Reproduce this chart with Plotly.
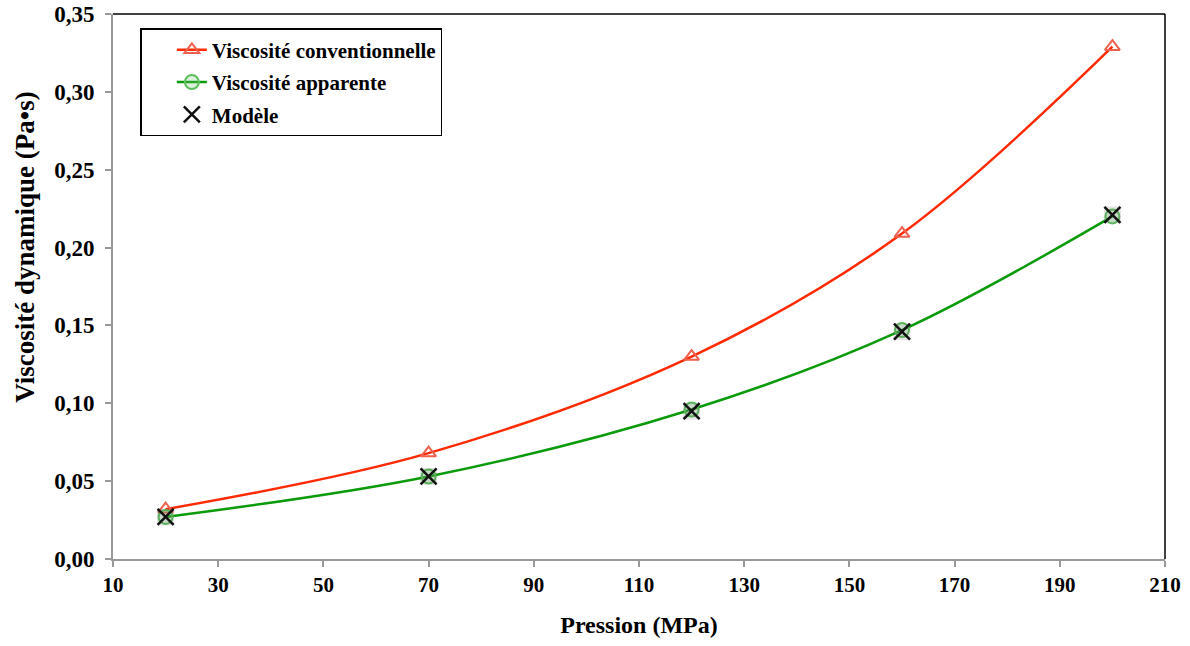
import plotly.graph_objects as go

pression = [20, 70, 120, 160, 200]
visc_conv = [0.032, 0.068, 0.130, 0.209, 0.329]
visc_app = [0.027, 0.053, 0.096, 0.147, 0.220]
modele = [0.027, 0.053, 0.095, 0.146, 0.221]
x_ticks = [10, 30, 50, 70, 90, 110, 130, 150, 170, 190, 210]
y_ticks = [0.00, 0.05, 0.10, 0.15, 0.20, 0.25, 0.30, 0.35]

FONT = "Liberation Serif"

fig = go.Figure()
fig.add_trace(go.Scatter(
    x=pression, y=visc_conv, name="Viscosité conventionnelle", legendgroup="a",
    mode="lines+markers", line=dict(color="#ff2a00", width=2.5, shape="spline", smoothing=1),
    marker=dict(symbol="triangle-up-open", size=13, color="#f0604f", line=dict(width=2)),
))
fig.add_trace(go.Scatter(
    x=pression, y=visc_app, name="Viscosité apparente", legendgroup="b",
    mode="lines+markers", line=dict(color="#0a9a0a", width=2.5, shape="spline", smoothing=1),
    marker=dict(symbol="circle", size=14, color="rgba(120,200,120,0.25)",
                line=dict(width=2, color="#5cbf5c")),
))
# soft shadow behind model markers
fig.add_trace(go.Scatter(
    x=pression, y=modele, mode="markers", showlegend=False, hoverinfo="skip",
    marker=dict(symbol="square", size=17, color="rgba(90,90,90,0.16)", line=dict(width=0)),
))
fig.add_trace(go.Scatter(
    x=pression, y=modele, name="Modèle", mode="markers", legendgroup="c",
    marker=dict(symbol="x-thin", size=16, color="black", line=dict(width=2.5, color="#111111")),
))

fig.update_layout(
    width=1190, height=646,
    paper_bgcolor="white", plot_bgcolor="white",
    margin=dict(l=113, r=25, t=14, b=87),
    separators=", ",
    font=dict(family=FONT, size=20, color="black"),
    showlegend=True,
    legend=dict(
        x=0.026, y=0.974, xanchor="left", yanchor="top",
        bgcolor="white", bordercolor="black", borderwidth=1.5,
        font=dict(family=FONT, size=21, color="black", weight="bold"),
        itemwidth=30, tracegroupgap=2, indentation=30,
    ),
    xaxis=dict(
        range=[10, 210], tickvals=x_ticks, ticktext=[str(v) for v in x_ticks],
        showgrid=False, zeroline=False, automargin=False,
        showline=True, linecolor="#999999", linewidth=2,
        ticks="outside", ticklen=6, tickcolor="#999999", tickwidth=2,
        tickfont=dict(family=FONT, size=21, color="black", weight="bold"),
        ticklabeloverflow="allow",
        title=dict(text="Pression (MPa)", font=dict(family=FONT, size=24, color="black", weight="bold"), standoff=20),
    ),
    yaxis=dict(
        range=[0, 0.35], tickvals=y_ticks, tickformat=".2f",
        showgrid=False, zeroline=False, automargin=False,
        showline=True, linecolor="#999999", linewidth=2,
        ticks="outside", ticklen=6, tickcolor="#999999", tickwidth=2,
        tickfont=dict(family=FONT, size=23, color="black", weight="bold"),
        ticklabeloverflow="allow", ticklabelstandoff=6,
    ),
    annotations=[
        dict(text="<b>Viscosité dynamique (Pa•s)</b>", xref="paper", yref="paper",
             x=-88 / 1052, y=0.571, xanchor="center", yanchor="middle", textangle=-90,
             showarrow=False, font=dict(family=FONT, size=27, color="black")),
    ],
    shapes=[
        dict(type="line", xref="paper", yref="paper", x0=0, x1=1, y0=1, y1=1, line=dict(color="black", width=1.5)),
        dict(type="line", xref="paper", yref="paper", x0=1, x1=1, y0=0, y1=1, line=dict(color="black", width=1.5)),
    ],
)

fig.write_html("out.html", config={"displayModeBar": False},
               post_script="document.body.style.margin='0px';")
